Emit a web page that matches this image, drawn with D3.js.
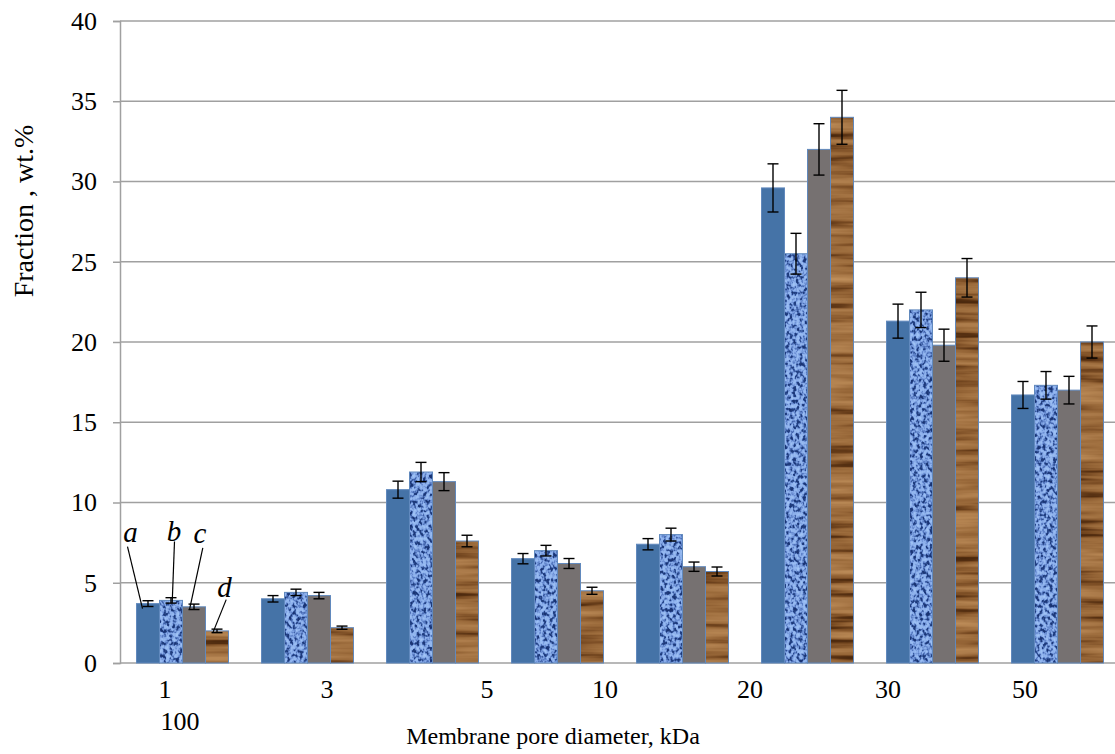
<!DOCTYPE html>
<html>
<head>
<meta charset="utf-8">
<script src="https://cdn.jsdelivr.net/npm/d3@7/dist/d3.min.js"></script>
<style>
  html, body { margin: 0; padding: 0; background: #fff; }
  svg { display: block; }
  text { font-family: "Liberation Serif", "Times New Roman", serif; fill: #000; }
</style>
</head>
<body>
<svg id="chart" width="1115" height="754"></svg>
<script>
// Membrane pore diameter groups (kDa)
const categories = ["1", "3", "5", "10", "20", "30", "50", "100"];
const seriesNames = ["a", "b", "c", "d"];

// Fraction, wt.% for each sample
const seriesA = [3.7, 4.0, 10.8, 6.5, 7.4, 29.6, 21.3, 16.7];
const seriesB = [3.9, 4.4, 11.9, 7.0, 8.0, 25.5, 22.0, 17.3];
const seriesC = [3.5, 4.2, 11.3, 6.2, 6.0, 32.0, 19.8, 17.0];
const seriesD = [2.0, 2.2, 7.6, 4.5, 5.7, 34.0, 24.0, 20.0];

// Standard deviations
const errA = [0.18, 0.2, 0.53, 0.32, 0.35, 1.5, 1.06, 0.84];
const errB = [0.17, 0.2, 0.6, 0.33, 0.4, 1.27, 1.1, 0.86];
const errC = [0.17, 0.2, 0.56, 0.31, 0.29, 1.6, 1.0, 0.86];
const errD = [0.11, 0.1, 0.36, 0.22, 0.28, 1.68, 1.2, 1.0];

// Y axis ticks
const yTicks = [0, 5, 10, 15, 20, 25, 30, 35, 40];

// Category axis labels as printed, with their anchor along the axis (in group units)
const xLabelText = ["1", "3", "5", "10", "20", "30", "50"];
const xLabelAt   = [0.36, 1.656, 2.936, 3.88, 5.04, 6.144, 7.24];
const xLabel2Text = ["100"];
const xLabel2At   = [0.48];

const values = [seriesA, seriesB, seriesC, seriesD];
const errors = [errA, errB, errC, errD];

const svg = d3.select("#chart");
const W = 1115, H = 754;
const plotL = 120, plotR = 1120, plotT = 21, plotB = 663;

const x = d3.scaleBand().domain(categories).range([plotL, plotR])
  .paddingInner(0.264).paddingOuter(0.132);
const xs = d3.scaleBand().domain(seriesNames).range([0, x.bandwidth()]);
const xPos = d3.scaleLinear().domain([0, categories.length]).range([plotL, plotR]);
const y = d3.scaleLinear().domain([0, 40]).range([plotB, plotT]);

svg.append("rect").attr("width", W).attr("height", H).attr("fill", "#fff");

// ---- textures ----
const defs = svg.append("defs");

// blue mottled fabric
const fb = defs.append("filter").attr("id", "texBlue")
  .attr("filterUnits", "userSpaceOnUse")
  .attr("x", 0).attr("y", 0).attr("width", W).attr("height", H)
  .attr("color-interpolation-filters", "sRGB");
fb.append("feTurbulence").attr("type", "fractalNoise")
  .attr("baseFrequency", "0.3 0.24").attr("numOctaves", 2).attr("seed", 7).attr("result", "n");
fb.append("feColorMatrix").attr("in", "n").attr("type", "matrix")
  .attr("values", "1 0 0 0 0  1 0 0 0 0  1 0 0 0 0  0 0 0 0 1").attr("result", "g");
const fbt = fb.append("feComponentTransfer").attr("in", "g").attr("result", "c");
fbt.append("feFuncR").attr("type", "table").attr("tableValues", "0.10 0.10 0.10 0.14 0.36 0.54 0.58 0.62 0.64 0.64");
fbt.append("feFuncG").attr("type", "table").attr("tableValues", "0.20 0.20 0.20 0.26 0.50 0.68 0.72 0.76 0.78 0.78");
fbt.append("feFuncB").attr("type", "table").attr("tableValues", "0.45 0.45 0.45 0.52 0.78 0.92 0.94 0.96 0.97 0.97");
fb.append("feGaussianBlur").attr("in", "c").attr("stdDeviation", 0.5).attr("result", "cb");
fb.append("feComposite").attr("in", "cb").attr("in2", "SourceAlpha").attr("operator", "in");

// wood grain: horizontal bands of medium brown with darker streaks
const fw = defs.append("filter").attr("id", "texWood")
  .attr("filterUnits", "userSpaceOnUse")
  .attr("x", 0).attr("y", 0).attr("width", W).attr("height", H)
  .attr("color-interpolation-filters", "sRGB");
fw.append("feTurbulence").attr("type", "fractalNoise")
  .attr("baseFrequency", "0.008 0.13").attr("numOctaves", 3).attr("seed", 23).attr("result", "n");
fw.append("feColorMatrix").attr("in", "n").attr("type", "matrix")
  .attr("values", "1 0 0 0 0  1 0 0 0 0  1 0 0 0 0  0 0 0 0 1").attr("result", "g");
const fwt = fw.append("feComponentTransfer").attr("in", "g").attr("result", "c");
fwt.append("feFuncR").attr("type", "table").attr("tableValues", "0.26 0.28 0.34 0.48 0.58 0.63 0.67 0.71 0.74 0.76");
fwt.append("feFuncG").attr("type", "table").attr("tableValues", "0.14 0.15 0.19 0.30 0.39 0.44 0.48 0.52 0.55 0.57");
fwt.append("feFuncB").attr("type", "table").attr("tableValues", "0.04 0.05 0.07 0.14 0.21 0.25 0.29 0.32 0.35 0.37");
fw.append("feGaussianBlur").attr("in", "c").attr("stdDeviation", "0.8 0.5").attr("result", "cb");
fw.append("feComposite").attr("in", "cb").attr("in2", "SourceAlpha").attr("operator", "in");

const barFill = ["#4573a7", "#000", "#767171", "#000"];
const barFilter = [null, "url(#texBlue)", null, "url(#texWood)"];

// ---- gridlines ----
svg.append("g").selectAll("line").data(yTicks.filter(t => t > 0)).join("line")
  .attr("x1", plotL).attr("x2", W).attr("y1", d => y(d)).attr("y2", d => y(d))
  .attr("stroke", "#a0a0a0").attr("stroke-width", 1.5);

// ---- y axis ----
const yAxis = svg.append("g").attr("transform", `translate(${plotL},0)`)
  .call(d3.axisLeft(y).tickValues(yTicks).tickSize(7).tickPadding(16));
yAxis.select(".domain").attr("stroke", "#a0a0a0").attr("stroke-width", 1.5);
yAxis.selectAll(".tick line").attr("stroke", "#a0a0a0").attr("stroke-width", 1.5);
yAxis.selectAll(".tick text").attr("font-size", 26)
  .attr("font-family", "Liberation Serif, Times New Roman, serif").attr("fill", "#000");

// ---- x axis baseline ----
svg.append("line").attr("x1", plotL).attr("x2", W).attr("y1", y(0)).attr("y2", y(0))
  .attr("stroke", "#a0a0a0").attr("stroke-width", 1.5);

// ---- bars ----
const barData = [];
categories.forEach((c, i) => {
  seriesNames.forEach((s, j) => {
    barData.push({ cat: c, s, j, v: values[j][i], e: errors[j][i] });
  });
});

const bars = svg.append("g");
bars.selectAll("rect.fill").data(barData).join("rect").attr("class", "fill")
  .attr("x", d => x(d.cat) + xs(d.s))
  .attr("width", xs.bandwidth())
  .attr("y", d => y(d.v))
  .attr("height", d => y(0) - y(d.v))
  .attr("fill", d => barFill[d.j])
  .attr("filter", d => barFilter[d.j]);
bars.selectAll("rect.edge").data(barData).join("rect").attr("class", "edge")
  .attr("x", d => x(d.cat) + xs(d.s))
  .attr("width", xs.bandwidth())
  .attr("y", d => y(d.v))
  .attr("height", d => y(0) - y(d.v))
  .attr("fill", "none").attr("stroke", "#6189bd").attr("stroke-width", 1);

// ---- error bars ----
const eb = svg.append("g").attr("stroke", "#000").attr("stroke-width", 1.4);
const cx = d => x(d.cat) + xs(d.s) + xs.bandwidth() / 2;
eb.selectAll("line.v").data(barData).join("line").attr("class", "v")
  .attr("x1", cx).attr("x2", cx)
  .attr("y1", d => y(d.v + d.e)).attr("y2", d => y(d.v - d.e));
eb.selectAll("line.t").data(barData).join("line").attr("class", "t")
  .attr("x1", d => cx(d) - 5.5).attr("x2", d => cx(d) + 5.5)
  .attr("y1", d => y(d.v + d.e)).attr("y2", d => y(d.v + d.e));
eb.selectAll("line.b").data(barData).join("line").attr("class", "b")
  .attr("x1", d => cx(d) - 5.5).attr("x2", d => cx(d) + 5.5)
  .attr("y1", d => y(d.v - d.e)).attr("y2", d => y(d.v - d.e));

// ---- sample letters with leader lines on the first group ----
const notes = [
  { j: 0, tipDx: 6,   tipDy: 5,   fromDx: -15, fromDy: -62, tx: -12, ty: -67 },
  { j: 1, tipDx: 12.7, tipDy: 2.6, fromDx: 2.3, fromDy: -61.6, tx: 1.8, ty: -61.6 },
  { j: 2, tipDx: 7,   tipDy: 2.7, fromDx: 13.3, fromDy: -61.7, tx: 10.5, ty: -67 },
  { j: 3, tipDx: 7.3, tipDy: 2,   fromDx: 13.4, fromDy: -33.3, tx: 11.7, ty: -36.3 }
];
const ann = svg.append("g");
notes.forEach(n => {
  const c0 = categories[0];
  const tipX = x(c0) + xs(seriesNames[n.j]) + n.tipDx;
  const tipY = y(values[n.j][0]) + n.tipDy;
  const fx = tipX + n.fromDx, fy = tipY + n.fromDy;
  ann.append("line").attr("x1", fx).attr("y1", fy).attr("x2", tipX).attr("y2", tipY)
    .attr("stroke", "#000").attr("stroke-width", 1.2);
  ann.append("text").attr("x", tipX + n.tx).attr("y", tipY + n.ty)
    .attr("text-anchor", "middle").attr("font-size", 29).attr("font-style", "italic")
    .text(seriesNames[n.j]);
});

// ---- category labels ----
svg.append("g").selectAll("text").data(xLabelText).join("text")
  .attr("x", (d, i) => xPos(xLabelAt[i])).attr("y", 698)
  .attr("text-anchor", "middle").attr("font-size", 26).text(d => d);
svg.append("g").selectAll("text").data(xLabel2Text).join("text")
  .attr("x", (d, i) => xPos(xLabel2At[i])).attr("y", 730)
  .attr("text-anchor", "middle").attr("font-size", 26).text(d => d);

// ---- axis titles ----
svg.append("text").attr("x", 553).attr("y", 744).attr("text-anchor", "middle")
  .attr("font-size", 24).text("Membrane pore diameter, kDa");
svg.append("text").attr("transform", "translate(33,211) rotate(-90)")
  .attr("text-anchor", "middle").attr("font-size", 28).text("Fraction , wt.%");
</script>
</body>
</html>
